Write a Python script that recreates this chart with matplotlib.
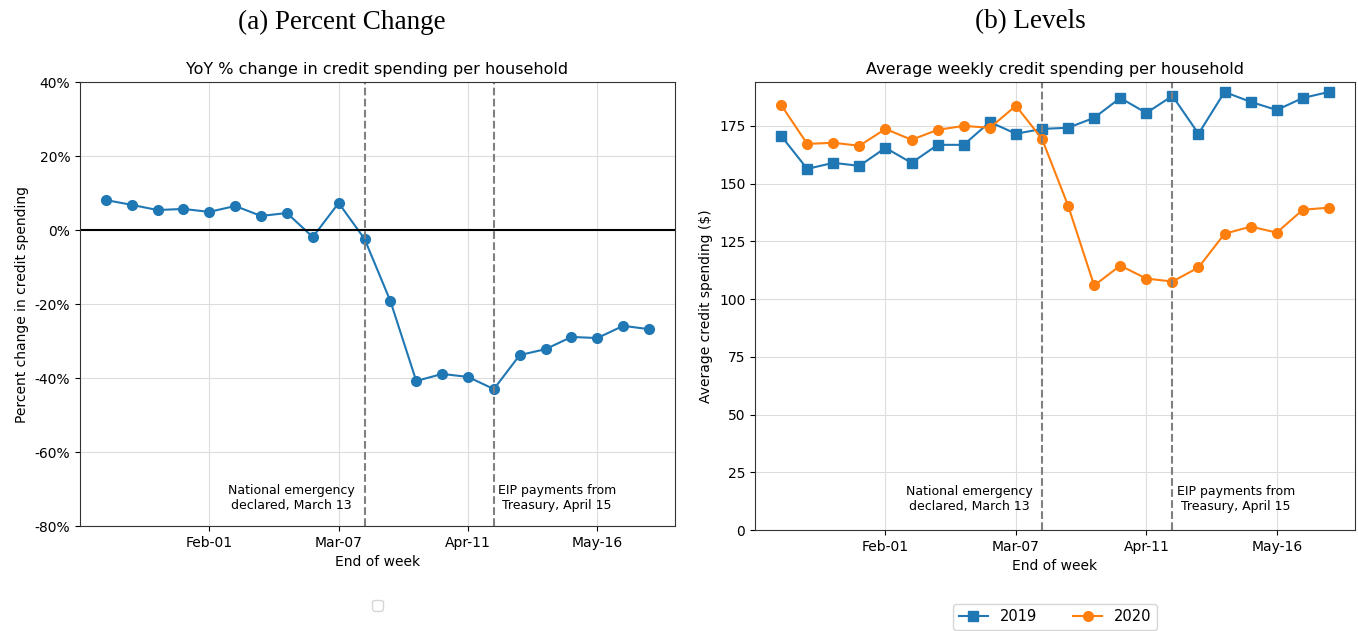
import pandas as pd
import matplotlib
matplotlib.use('Agg')
import matplotlib.pyplot as plt
import matplotlib.dates as mdates
from matplotlib.ticker import FuncFormatter

# weekly data, weeks ending Saturday
weeks = pd.date_range('2020-01-04', '2020-05-30', freq='7D')
pct_change = [8.1, 6.8, 5.4, 5.7, 4.9, 6.5, 3.8, 4.6, -1.9, 7.3, -2.4,
              -19.2, -40.8, -38.9, -39.7, -43.0, -33.8, -32.2, -28.9, -29.2, -25.9, -26.8]
spend_2019 = [170.7, 156.4, 159.0, 157.7, 165.5, 159.0, 166.8, 166.8, 176.7, 171.6, 173.7,
              174.2, 178.5, 187.1, 180.6, 188.0, 171.6, 189.7, 185.4, 181.9, 187.1, 189.7]
spend_2020 = [184.1, 167.2, 167.7, 166.4, 173.7, 169.0, 173.3, 175.0, 174.2, 183.7, 169.4,
              140.5, 105.9, 114.5, 108.9, 107.6, 113.7, 128.3, 131.4, 128.8, 138.7, 139.6]
tick_dates = pd.to_datetime(['2020-02-01', '2020-03-07', '2020-04-11', '2020-05-16'])
emergency = pd.Timestamp('2020-03-14')
eip = pd.Timestamp('2020-04-18')

blue = '#1f77b4'
orange = '#ff7f0e'


def style_axis(ax):
    ax.set_xlim(pd.Timestamp('2019-12-28'), pd.Timestamp('2020-06-06'))
    ax.set_xticks(tick_dates)
    ax.xaxis.set_major_formatter(mdates.DateFormatter('%b-%d'))
    ax.grid(True, color='#dddddd', linewidth=0.8)
    ax.set_axisbelow(True)
    ax.set_xlabel('End of week', fontsize=10)
    for s in ax.spines.values():
        s.set_color('#333333')
    ax.tick_params(labelsize=10)


def add_events(ax, ytext):
    ax.axvline(emergency, color='gray', linestyle='--', linewidth=1.5)
    ax.axvline(eip, color='gray', linestyle='--', linewidth=1.5)
    ax.annotate('National emergency\ndeclared, March 13', xy=(emergency, ytext),
                xytext=(-7, 0), textcoords='offset points', ha='right', va='center',
                multialignment='center', fontsize=9)
    ax.annotate('EIP payments from\nTreasury, April 15', xy=(eip, ytext),
                xytext=(3, 0), textcoords='offset points', ha='left', va='center',
                multialignment='center', fontsize=9)


fig = plt.figure(figsize=(13.58, 6.31), dpi=100)
ax1 = fig.add_axes([0.0589, 0.1664, 0.4381, 0.7036])
ax2 = fig.add_axes([0.556, 0.160, 0.4418, 0.710])

# (a) percent change
ax1.plot(weeks, pct_change, marker='o', color=blue, markersize=7, linewidth=1.5)
ax1.axhline(0, color='black', linewidth=1.5)
ax1.set_ylim(-80, 40)
ax1.set_yticks(range(-80, 41, 20))
ax1.yaxis.set_major_formatter(FuncFormatter(lambda v, p: '%d%%' % v))
ax1.set_ylabel('Percent change in credit spending', fontsize=10)
ax1.set_title('YoY % change in credit spending per household', fontsize=11.5)
style_axis(ax1)
add_events(ax1, -72.5)
ax1.legend([], [], loc='upper center', bbox_to_anchor=(0.5, -0.15))

# (b) levels
ax2.plot(weeks, spend_2019, marker='s', color=blue, markersize=7, linewidth=1.5, label='2019')
ax2.plot(weeks, spend_2020, marker='o', color=orange, markersize=7, linewidth=1.5, label='2020')
ax2.set_ylim(0, 194)
ax2.set_yticks(range(0, 176, 25))
ax2.set_ylabel(r'Average credit spending (\$)', fontsize=10)
ax2.set_title('Average weekly credit spending per household', fontsize=11.5)
style_axis(ax2)
add_events(ax2, 13.5)
ax2.legend(loc='upper center', bbox_to_anchor=(0.5, -0.148), ncol=2, fontsize=10.5,
           columnspacing=2.5)

fig.text(0.252, 0.965, '(a) Percent Change', ha='center', va='center',
         family='Liberation Serif', fontsize=19.5)
fig.text(0.7585, 0.965, '(b) Levels', ha='center', va='center',
         family='Liberation Serif', fontsize=19.5)

fig.savefig('out.png', dpi=100)
